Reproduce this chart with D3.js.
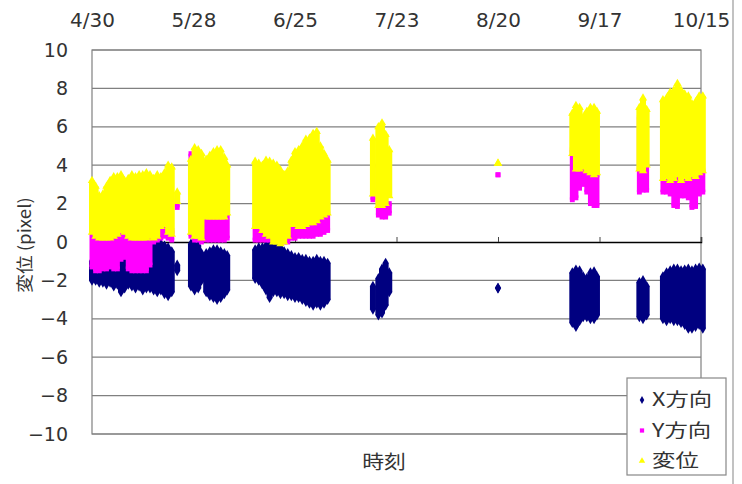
<!DOCTYPE html>
<html>
<head>
<meta charset="utf-8">
<script src="https://cdn.jsdelivr.net/npm/d3@7"></script>
<style>
  body { margin: 0; background: #fff; }
  text { font-family: "DejaVu Sans", "Noto Sans CJK JP", sans-serif; fill: #333; }
  .jp { font-family: "Noto Sans CJK JP", sans-serif; }
</style>
</head>
<body>
<div class="container"></div>
<script>
// days counted from 4/30
var tickDays = [0, 28, 56, 84, 112, 140, 168];
var tickLabels = ['4/30', '5/28', '6/25', '7/23', '8/20', '9/17', '10/15'];
var yTicks = [-10, -8, -6, -4, -2, 0, 2, 4, 6, 8, 10];
var seriesNames = ['X方向', 'Y方向', '変位'];

// [day, low, high] envelopes of the point clouds
var xDir = [
    [0,-2.0,-1.0],[1,-2.0,-0.9],[2,-2.1,-0.9],[3,-2.1,-0.9],[4,-2.2,-0.9],[5,-2.1,-0.9],
    [6,-2.3,-0.9],[7,-2.2,-0.9],[8,-2.6,-0.9],[9,-2.4,-0.8],[10,-2.2,-0.8],[11,-2.3,-0.9],
    [12,-2.4,-0.9],[13,-2.3,-0.9],[14,-2.5,-0.9],[15,-2.4,-0.8],[16,-2.4,-0.5],[17,-2.5,-0.1],
    [18,-2.6,-0.2],[19,-2.5,-0.1],[20,-2.7,-0.2],[21,-2.8,-0.3],[22,-2.6,-0.5],[23.5,-1.5,-1.2],
    [27.3,-2.3,-0.1],[28.3,-2.5,0.0],[29.3,-2.4,-0.2],[30.2,-2.0,-0.6],[31.5,-2.6,-0.6],
    [32.5,-2.8,-0.5],[33.5,-2.9,-0.4],[34.5,-3.0,-0.4],[35.5,-2.9,-0.5],[36.5,-2.7,-0.6],[37.3,-2.5,-0.7],
    [45,-1.9,-0.4],[46,-2.0,-0.3],[47,-2.2,-0.3],[48,-2.5,-0.2],[49,-2.9,-0.1],[50,-2.6,-0.1],
    [51,-2.6,-0.1],[52,-2.7,-0.3],[53,-2.7,-0.5],[54,-2.8,-0.6],[55,-2.8,-0.7],[56,-2.9,-0.8],
    [57,-2.9,-0.8],[58,-3.0,-0.9],[59,-3.1,-0.9],[60,-3.2,-1.0],[61,-3.3,-1.0],[62,-3.2,-0.9],
    [63,-3.3,-1.0],[64,-3.2,-1.0],[65,-3.0,-1.1],
    [77.5,-3.5,-2.3],[79,-3.8,-1.9],[80,-3.7,-1.4],[81,-3.3,-1.1],[82,-2.6,-1.6],
    [112,-2.4,-2.4],
    [132.5,-4.2,-1.6],[133.5,-4.4,-1.45],[134.5,-4.1,-1.5],[135.5,-3.9,-1.8],[136.5,-3.9,-1.9],
    [137.5,-4.0,-1.6],[138.5,-4.0,-1.55],[139.3,-3.8,-1.8],
    [151,-3.9,-2.1],[152,-4.0,-2.0],[153,-3.8,-2.3],
    [157.5,-4.0,-1.8],[158.5,-4.1,-1.6],[159.5,-4.0,-1.5],[160.5,-4.1,-1.4],[161.5,-4.1,-1.4],
    [162.5,-4.2,-1.5],[163.5,-4.3,-1.45],[164.5,-4.5,-1.4],[165.5,-4.5,-1.5],[166.5,-4.4,-1.4],
    [167.5,-4.3,-1.35],[168.5,-4.5,-1.4]
];

var yDir = [
    [0,-1.3,0.9],[1,-1.5,0.3],[2,-1.5,0.2],[3,-1.4,0.3],[4,-1.4,0.3],[5,-1.3,0.2],
    [6,-1.4,0.3],[7,-1.4,0.6],[8,-0.9,0.7],[9,-0.8,0.6],[10,-1.4,0.3],[11,-1.5,0.2],
    [12,-1.5,0.2],[13,-1.5,0.2],[14,-1.5,0.3],[15,-1.5,0.3],[16,-1.2,0.3],[17,0.0,0.5],
    [18,0.1,0.6],[19,0.2,1.3],[20,0.3,1.2],[21,0.2,0.7],[22,0.1,0.6],[23.5,1.8,2.3],
    [27.3,0.3,4.6],[28.3,0.1,1.0],[29.3,0.1,0.6],[30.2,0.0,0.5],[31.5,0.1,1.3],
    [32.5,0.1,1.3],[33.5,0.1,1.4],[34.5,0.1,1.3],[35.5,0.1,1.3],[36.5,0.1,1.4],[37.3,0.2,1.5],
    [45,0.1,0.8],[46,0.1,0.8],[47,0.1,0.8],[48,0.1,0.7],[49,0.1,0.6],[50,0.1,0.4],
    [53,0.0,0.4],[54,0.0,0.5],[55,0.2,0.9],[56,0.2,0.9],[57,0.3,0.9],[58,0.3,1.0],
    [59,0.3,1.0],[60,0.3,1.1],[61,0.3,1.1],[62,0.4,1.2],[63,0.4,1.4],[64,0.5,1.4],[65,0.6,1.5],
    [77.5,2.2,4.0],[79,1.4,2.8],[80,1.3,2.6],[81,1.3,2.4],[82,1.5,2.0],
    [112,3.5,3.5],
    [132.5,2.2,4.8],[133.5,2.3,4.4],[134.5,2.8,4.2],[135.5,3.0,4.0],[136.5,2.6,3.8],
    [137.5,2.0,3.6],[138.5,1.9,3.5],[139.3,1.9,3.5],
    [151,2.6,6.5],[152,2.7,4.5],[153,2.7,4.0],
    [157.5,2.6,5.3],[158.5,2.6,3.8],[159.5,2.5,3.5],[160.5,1.9,3.4],[161.5,1.85,3.5],
    [162.5,2.4,3.3],[163.5,2.4,3.5],[164.5,2.3,3.4],[165.5,1.8,3.5],[166.5,1.85,3.4],
    [167.5,2.5,3.6],[168.5,2.6,3.7]
];

var disp = [
    [0,0.5,3.2],[1,0.3,2.9],[2,0.2,2.4],[3,0.2,2.5],[4,0.2,2.9],[5,0.2,3.2],
    [6,0.3,3.4],[7,0.4,3.4],[8,0.6,3.5],[9,0.5,3.2],[10,0.3,3.3],[11,0.2,3.5],
    [12,0.2,3.4],[13,0.2,3.5],[14,0.2,3.5],[15,0.2,3.6],[16,0.3,3.5],[17,0.2,3.3],
    [18,0.3,3.5],[19,0.8,3.4],[20,0.9,3.6],[21,0.5,4.0],[22,0.4,3.9],[23.5,2.1,2.6],
    [27.3,0.5,4.3],[28.3,0.3,4.9],[29.3,0.3,4.8],[30.2,0.2,4.6],[31.5,1.3,4.3],
    [32.5,1.3,4.5],[33.5,1.3,4.7],[34.5,1.3,4.8],[35.5,1.3,4.8],[36.5,1.3,4.4],[37.3,1.5,4.0],
    [45,0.8,4.2],[46,0.8,4.1],[47,0.6,4.0],[48,0.4,4.25],[49,0.3,4.2],[50,0.0,4.1],
    [51,0.0,4.0],[52,-0.1,3.75],[53,0.0,3.5],[54,0.3,3.7],[55,0.9,4.25],[56,0.9,4.7],
    [57,0.8,4.8],[58,0.8,5.0],[59,0.9,5.35],[60,1.0,5.4],[61,1.0,5.65],[62,1.1,5.75],
    [63,1.3,5.0],[64,1.4,4.6],[65,1.5,4.25],
    [77.5,2.5,5.4],[79,1.9,6.0],[80,1.9,6.2],[81,2.0,5.6],[82,2.4,4.8],
    [112,4.1,4.1],
    [132.5,4.6,6.7],[133.5,3.8,7.1],[134.5,3.8,7.0],[135.5,3.9,6.5],[136.5,3.7,6.8],
    [137.5,3.6,7.0],[138.5,3.5,7.0],[139.3,3.6,6.8],
    [151,3.8,7.0],[152,3.7,7.5],[153,4.0,6.9],
    [157.5,3.3,7.4],[158.5,3.4,7.5],[159.5,3.2,7.8],[160.5,3.3,7.9],[161.5,3.5,8.25],
    [162.5,3.2,7.9],[163.5,3.4,7.7],[164.5,3.3,7.6],[165.5,3.5,7.2],[166.5,3.4,7.3],
    [167.5,3.6,7.6],[168.5,3.7,7.6]
];

var translate = (x, y) => `translate(${ x },${ y })`;

var WIDTH = 742, HEIGHT = 484;
var LEFT = 92, RIGHT = 701, TOP = 50, BOTTOM = 434;

var xScale = d3.scaleLinear().domain([0, 168]).range([LEFT, RIGHT]);
var yScale = d3.scaleLinear().domain([-10, 10]).range([BOTTOM, TOP]);

var series = [
    {name: seriesNames[0], data: xDir, color: '#000080', symbol: d3.symbolDiamond, size: 34, w: 6},
    {name: seriesNames[1], data: yDir, color: '#ff00ff', symbol: d3.symbolSquare, size: 24, w: 5},
    {name: seriesNames[2], data: disp, color: '#ffff00', symbol: d3.symbolTriangle, size: 30, w: 6}
];

var svg = d3.select('.container').append('svg')
    .attr('width', WIDTH)
    .attr('height', HEIGHT);

// outer frame edge on the right
svg.append('line')
    .attr('x1', 733).attr('x2', 733).attr('y1', 0).attr('y2', HEIGHT)
    .attr('stroke', '#999').attr('stroke-width', 1.2);

// gridlines
svg.append('g').selectAll('line')
    .data(yTicks.filter(v => v !== 0))
    .enter().append('line')
    .attr('x1', LEFT).attr('x2', RIGHT)
    .attr('y1', yScale).attr('y2', yScale)
    .attr('stroke', '#808080').attr('stroke-width', 1.2);

svg.append('rect')
    .attr('x', LEFT).attr('y', TOP)
    .attr('width', RIGHT - LEFT).attr('height', BOTTOM - TOP)
    .attr('fill', 'none').attr('stroke', '#808080').attr('stroke-width', 1.2);

// y labels
var yAxis = svg.append('g')
    .attr('transform', translate(LEFT, 0))
    .call(d3.axisLeft(yScale).tickValues(yTicks).tickSize(0).tickPadding(24));
yAxis.select('.domain').remove();
yAxis.selectAll('text')
    .attr('font-size', 19)
    .attr('font-family', '"DejaVu Sans", sans-serif')
    .attr('fill', '#333');

// date labels on top
var xAxisTop = svg.append('g')
    .attr('transform', translate(0, TOP))
    .call(d3.axisTop(xScale).tickValues(tickDays).tickSize(0).tickPadding(23)
        .tickFormat((d, i) => tickLabels[i]));
xAxisTop.select('.domain').remove();
xAxisTop.selectAll('text')
    .attr('font-size', 20)
    .attr('font-family', '"DejaVu Sans", sans-serif')
    .attr('fill', '#333');

// points
var drawSeries = (s) => {
    var g = svg.append('g').attr('fill', s.color);
    var sym = d3.symbol().type(s.symbol).size(s.size);
    g.selectAll('rect')
        .data(s.data.filter(d => d[2] > d[1]))
        .enter().append('rect')
        .attr('x', d => xScale(d[0]) - s.w / 2)
        .attr('y', d => yScale(d[2]))
        .attr('width', s.w)
        .attr('height', d => yScale(d[1]) - yScale(d[2]));
    var ends = s.data.flatMap(d => [[d[0], d[1]], [d[0], d[2]]]);
    g.selectAll('path')
        .data(ends)
        .enter().append('path')
        .attr('d', sym)
        .attr('transform', d => translate(xScale(d[0]), yScale(d[1])));
}

// zero axis under the points
var zeroAxis = svg.append('g')
    .attr('transform', translate(0, yScale(0)))
    .call(d3.axisTop(xScale).tickValues(tickDays).tickSize(5).tickFormat(''));
zeroAxis.select('.domain').attr('stroke', '#000').attr('stroke-width', 1.5);
zeroAxis.selectAll('.tick line').attr('stroke', '#444');

series.forEach(drawSeries);

// axis titles
svg.append('text')
    .attr('class', 'jp')
    .attr('transform', translate(31, 245) + ' rotate(-90) scale(1.1,1)')
    .attr('text-anchor', 'middle')
    .attr('font-size', 17)
    .text('変位 (pixel)');

svg.append('text')
    .attr('class', 'jp')
    .attr('transform', translate(384, 469) + ' scale(1.15,1)')
    .attr('text-anchor', 'middle')
    .attr('font-size', 19)
    .text('時刻');

// legend
var legend = svg.append('g').attr('transform', translate(627, 378));
legend.append('rect')
    .attr('width', 99).attr('height', 97)
    .attr('fill', '#fff').attr('stroke', '#888').attr('stroke-width', 1.2);

var item = legend.selectAll('.item')
    .data(series)
    .enter().append('g')
    .classed('item', true)
    .attr('transform', (d, i) => translate(0, 22 + i * 30.5));

item.append('path')
    .attr('d', d => d3.symbol().type(d.symbol).size(18)())
    .attr('transform', translate(15, 0))
    .attr('fill', d => d.color);

item.append('text')
    .attr('class', 'jp')
    .attr('transform', translate(25, 0) + ' scale(1.3,1)')
    .attr('dy', '0.36em')
    .attr('font-size', 18)
    .text(d => d.name);
</script>
</body>
</html>
